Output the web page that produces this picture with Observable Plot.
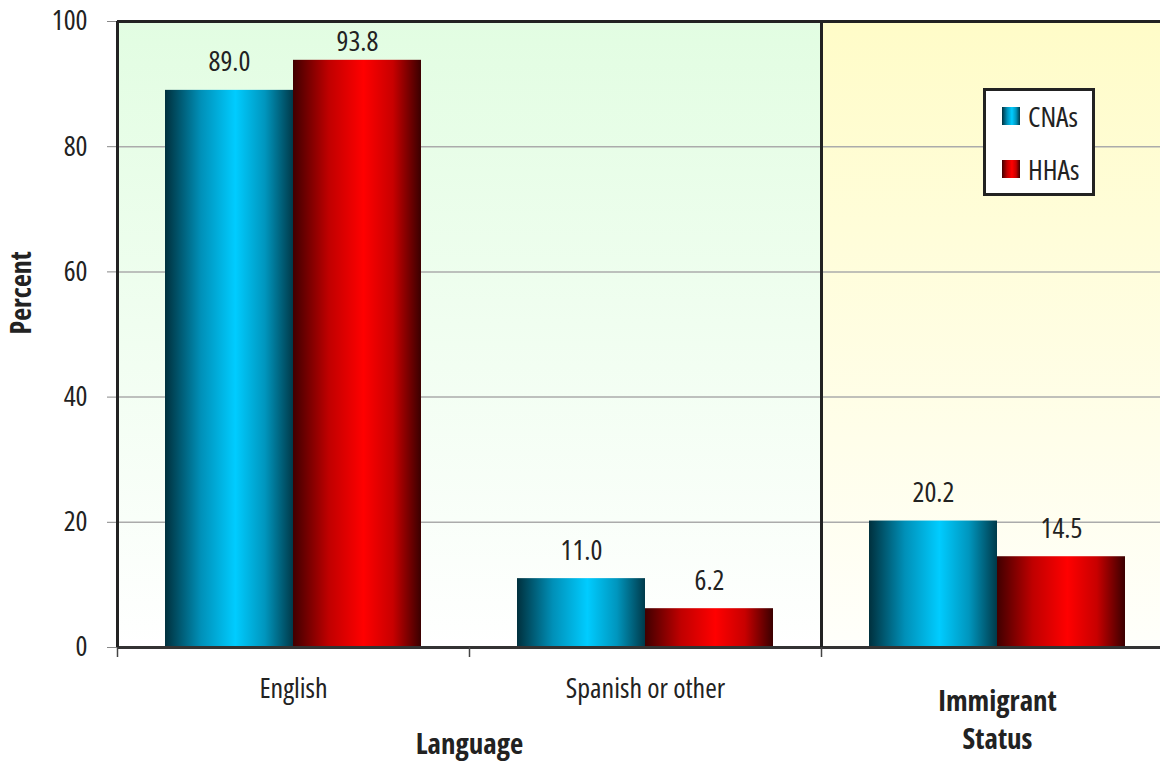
<!DOCTYPE html>
<html>
<head>
<meta charset="utf-8">
<script src="https://cdn.jsdelivr.net/npm/d3@7"></script>
<script src="https://cdn.jsdelivr.net/npm/@observablehq/plot@0.6"></script>
<style>
  html, body { margin: 0; padding: 0; background: #fff; }
  body { font-family: "Open Sans", sans-serif; font-stretch: condensed; }
  #wrap { position: relative; width: 1160px; height: 761px; overflow: hidden; }
  #wrap svg.plotsvg { display: block; font-stretch: condensed; }
  #legend { position: absolute; left: 983px; top: 88px; width: 112px; height: 108px;
            box-sizing: border-box; border: 3px solid #222; background: #fff; }
  .item { position: absolute; left: 16px; display: flex; align-items: center;
          font-size: 28px; color: #222; line-height: 1; font-stretch: condensed; }
  .item svg { margin-right: 8px; display: block; }
</style>
</head>
<body>
<svg width="0" height="0" style="position:absolute">
  <defs>
    <linearGradient id="gradCNA" x1="0" y1="0" x2="1" y2="0">
      <stop offset="0" stop-color="#00303d"/>
      <stop offset="0.28" stop-color="#0090b8"/>
      <stop offset="0.55" stop-color="#00ccff"/>
      <stop offset="0.78" stop-color="#0096be"/>
      <stop offset="1" stop-color="#003a4a"/>
    </linearGradient>
    <linearGradient id="gradHHA" x1="0" y1="0" x2="1" y2="0">
      <stop offset="0" stop-color="#400000"/>
      <stop offset="0.28" stop-color="#c00000"/>
      <stop offset="0.55" stop-color="#ff0000"/>
      <stop offset="0.78" stop-color="#c80000"/>
      <stop offset="1" stop-color="#3a0000"/>
    </linearGradient>
    <linearGradient id="bgGreen" x1="0" y1="0" x2="0" y2="1">
      <stop offset="0" stop-color="#e2fde2"/>
      <stop offset="1" stop-color="#ffffff"/>
    </linearGradient>
    <linearGradient id="bgYellow" x1="0" y1="0" x2="0" y2="1">
      <stop offset="0" stop-color="#fffcc8"/>
      <stop offset="1" stop-color="#fffffb"/>
    </linearGradient>
  </defs>
</svg>
<div id="wrap"></div>
<script>
// ---- data ----
const categories = ["English", "Spanish or other", "Immigrant Status"];
const panels = ["Language", "Language", "Immigrant Status"];
const series = ["CNAs", "HHAs"];
const cnaValues = [89.0, 11.0, 20.2];
const hhaValues = [93.8, 6.2, 14.5];
const yTicks = [0, 20, 40, 60, 80, 100];
const groupLabel = "Language";
const yLabel = "Percent";

// ---- styling / layout ----
const seriesFills = ["url(#gradCNA)", "url(#gradHHA)"];
const panelFills = {"Language": "url(#bgGreen)", "Immigrant Status": "url(#bgYellow)"};
const W = 1160, H = 761;
const mL = 117, mR = -13, mT = 21, mB = 114;
const step = (W - mL - mR) / categories.length;
const barW = 128;
const pad = (step - 2 * barW) / 2;
const font = '"Open Sans", sans-serif';
const fs = 28, fsBold = 29;
const labelGap = 19;           // px between bar top and label baseline
const labelMinTop = 29;        // px: label baseline never closer than this to the frame top
const yMax = yTicks[yTicks.length - 1];
const pxPerUnit = (H - mT - mB) / yMax;

const rows = categories.flatMap((c, i) => [
  {category: c, series: series[0], value: cnaValues[i]},
  {category: c, series: series[1], value: hhaValues[i]}
]);
const panelRows = categories.map((c, i) => ({category: c, panel: panels[i]}));
// label anchor (like Excel, labels are kept inside the plot area)
const labelY = d => Math.min(d.value, yMax - (labelMinTop + labelGap) / pxPerUnit);

const chart = Plot.plot({
  width: W, height: H,
  marginLeft: mL, marginRight: mR, marginTop: mT, marginBottom: mB,
  style: {fontFamily: font, fontStretch: "condensed", background: "transparent", overflow: "hidden"},
  x: {domain: categories, padding: 0, axis: null},
  y: {domain: [0, yMax], axis: null},
  color: {domain: series, range: seriesFills},
  marks: [
    // panel backgrounds
    Plot.barY(panelRows.filter(d => d.panel === "Language"),
      {x: "category", y1: 0, y2: yMax, fill: panelFills["Language"]}),
    Plot.barY(panelRows.filter(d => d.panel === "Immigrant Status"),
      {x: "category", y1: 0, y2: yMax, fill: panelFills["Immigrant Status"]}),
    // grid
    Plot.gridY(yTicks, {stroke: "#ababab", strokeOpacity: 1, strokeWidth: 1.5}),
    // y axis
    Plot.axisY(yTicks, {tickSize: 10, tickPadding: 20, fontSize: fs, stroke: "#888", fill: "#222", label: null}),
    // bars
    Plot.barY(rows.filter(d => d.series === series[0]),
      {x: "category", y: "value", fill: "series", insetLeft: pad, insetRight: pad + barW}),
    Plot.barY(rows.filter(d => d.series === series[1]),
      {x: "category", y: "value", fill: "series", insetLeft: pad + barW, insetRight: pad}),
    // frame lines
    Plot.ruleY([yMax], {stroke: "#222", strokeWidth: 3}),
    Plot.ruleY([0], {stroke: "#333", strokeWidth: 3}),
    Plot.ruleX([categories[0], categories[2]],
      {x: d => d, dx: -step / 2, y1: 0, y2: yMax, stroke: "#222", strokeWidth: 3}),
    Plot.ruleX(categories,
      {x: d => d, dx: -step / 2, y1: 0, y2: 0, insetTop: 10, stroke: "#444", strokeWidth: 1.5}),
    // value labels
    Plot.text(rows.filter(d => d.series === series[0]),
      {x: "category", y: labelY, text: d => d.value.toFixed(1), dx: -barW / 2, dy: -labelGap,
       lineAnchor: "bottom", fontSize: fs, fill: "#222"}),
    Plot.text(rows.filter(d => d.series === series[1]),
      {x: "category", y: labelY, text: d => d.value.toFixed(1), dx: barW / 2, dy: -labelGap,
       lineAnchor: "bottom", fontSize: fs, fill: "#222"}),
    // category labels
    Plot.text(panelRows.filter(d => d.panel === "Language"),
      {x: "category", text: "category", frameAnchor: "bottom", dy: 50, lineAnchor: "bottom",
       fontSize: fs, fill: "#222"}),
    Plot.text(panelRows.filter(d => d.panel !== "Language"),
      {x: "category", text: d => d.category.replace(" ", "\n"), frameAnchor: "bottom", dy: 101,
       lineAnchor: "bottom", lineHeight: 1.31, fontSize: fsBold, fontWeight: "bold", fill: "#222"}),
    Plot.text([groupLabel],
      {x: () => categories[0], text: d => d, dx: step / 2, frameAnchor: "bottom", dy: 106,
       lineAnchor: "bottom", fontSize: fsBold, fontWeight: "bold", fill: "#222"}),
    Plot.text([yLabel],
      {text: d => d, frameAnchor: "left", dx: -95, rotate: -90,
       fontSize: fs, fontWeight: "bold", fill: "#222"})
  ]
});
chart.classList.add("plotsvg");
const wrap = document.getElementById("wrap");
wrap.appendChild(chart);

// legend
const legend = document.createElement("div");
legend.id = "legend";
series.forEach((s, i) => {
  const item = document.createElement("div");
  item.className = "item";
  item.style.top = (16 + i * 53 - 5) + "px";
  item.innerHTML = `<svg width="18" height="18"><rect width="18" height="18" fill="${seriesFills[i]}"/></svg><span>${s}</span>`;
  legend.appendChild(item);
});
wrap.appendChild(legend);
</script>
</body>
</html>
